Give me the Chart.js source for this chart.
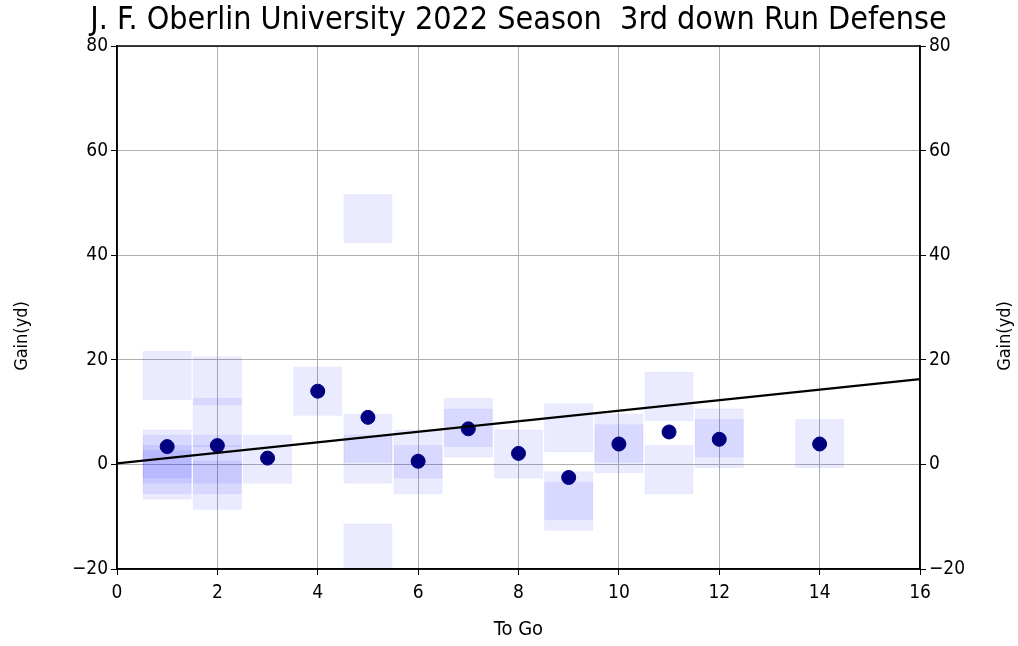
<!DOCTYPE html>
<html>
<head>
<meta charset="utf-8">
<script src="https://cdn.jsdelivr.net/npm/chart.js@4"></script>
<style>
  body { margin: 0; background: #fff; }
  canvas { display: block; }
</style>
</head>
<body>
<canvas id="chart" width="1018" height="646"></canvas>
<script>
// individual plays (yards to go, yards gained)
const playToGo = [1, 1, 1, 1, 1, 2, 2, 2, 2, 2, 3, 4, 5, 5, 5, 5, 6, 6, 7, 7, 8, 9, 9, 9, 10, 10, 11, 11, 12, 12, 14];
const playGain = [17, 2, 1, -1, -2, 16, 8, 1, -1, -4, 1, 14, 47, 5, 1, -16, 2, -1, 8, 6, 2, 7, -6, -8, 5, 3, 13, -1, 6, 4, 4];

// average gain per distance
const meanToGo = [1, 2, 3, 4, 5, 6, 7, 8, 9, 10, 11, 12, 14];
const meanGain = [3.4, 3.6, 1.2, 14, 9, 0.6, 6.8, 2.1, -2.5, 3.9, 6.2, 4.8, 3.9];

// regression line end points
const fitToGo = [0, 16];
const fitGain = [0.2, 16.3];

const xTickValues = [0, 2, 4, 6, 8, 10, 12, 14, 16];
const yTickValues = [-20, 0, 20, 40, 60, 80];

const TITLE = 'J. F. Oberlin University 2022 Season  3rd down Run Defense';
const FONT = "'DejaVu Sans Condensed', 'DejaVu Sans', sans-serif";
const minus = v => String(v).replace('-', '\u2212');

const toPoints = (xs, ys) => xs.map((x, i) => ({ x: x, y: ys[i] }));

// box around the plot, the title over the plot and both "Gain(yd)" labels
const framePlugin = {
    id: 'frame',
    afterDraw(chart) {
        const { ctx, chartArea } = chart;
        ctx.save();
        ctx.strokeStyle = '#000';
        ctx.lineWidth = 1.5;
        ctx.strokeRect(chartArea.left, chartArea.top, chartArea.right - chartArea.left, chartArea.bottom - chartArea.top);

        ctx.fillStyle = '#000';
        ctx.textAlign = 'center';
        ctx.textBaseline = 'middle';
        ctx.font = "condensed 32px " + FONT;
        ctx.fillText(TITLE, (chartArea.left + chartArea.right) / 2, 21);

        ctx.font = "condensed 18px " + FONT;
        [22, 1005].forEach(x => {
            ctx.save();
            ctx.translate(x, 336);
            ctx.rotate(-Math.PI / 2);
            ctx.fillText('Gain(yd)', 0, 0);
            ctx.restore();
        });
        ctx.restore();
    }
};

const tickFont = { family: FONT, size: 19, style: 'condensed' };

new Chart(document.getElementById('chart').getContext('2d'), {
    type: 'scatter',
    data: {
        datasets: [
            {
                label: 'fit',
                data: toPoints(fitToGo, fitGain),
                showLine: true,
                borderColor: '#000',
                borderWidth: 2.2,
                pointRadius: 0
            },
            {
                label: 'mean',
                data: toPoints(meanToGo, meanGain),
                backgroundColor: '#000080',
                borderColor: '#000080',
                borderWidth: 1,
                pointRadius: 7
            },
            {
                label: 'plays',
                data: toPoints(playToGo, playGain),
                pointStyle: 'rect',
                pointRadius: 34,
                backgroundColor: 'rgba(0, 0, 255, 0.08)',
                borderColor: 'rgba(0, 0, 255, 0.05)',
                borderWidth: 1,
                clip: 0
            }
        ]
    },
    options: {
        responsive: false,
        animation: false,
        layout: { padding: { top: 46, left: 0, right: 0, bottom: 0 } },
        plugins: {
            legend: { display: false },
            tooltip: { enabled: false },
            title: { display: false }
        },
        scales: {
            x: {
                type: 'linear',
                position: 'bottom',
                min: 0,
                max: 16,
                afterBuildTicks: s => { s.ticks = xTickValues.map(v => ({ value: v })); },
                afterFit: s => { s.height = 77; },
                ticks: { color: '#000', font: tickFont, padding: 7, maxRotation: 0, callback: minus },
                grid: { color: '#b0b0b0', lineWidth: 1, tickLength: 6, tickColor: '#000' },
                border: { color: '#000', width: 1.5 },
                title: {
                    display: true,
                    text: 'To Go',
                    color: '#000',
                    font: { family: FONT, size: 20, style: 'condensed' },
                    padding: { top: 0, bottom: 4 }
                }
            },
            y: {
                type: 'linear',
                position: 'left',
                min: -20,
                max: 80,
                afterBuildTicks: s => { s.ticks = yTickValues.map(v => ({ value: v })); },
                afterFit: s => { s.width = 117; },
                ticks: { color: '#000', font: tickFont, padding: 3, callback: minus },
                grid: { color: '#b0b0b0', lineWidth: 1, tickLength: 6, tickColor: '#000' },
                border: { color: '#000', width: 1.5 }
            },
            y2: {
                type: 'linear',
                position: 'right',
                min: -20,
                max: 80,
                afterBuildTicks: s => { s.ticks = yTickValues.map(v => ({ value: v })); },
                afterFit: s => { s.width = 98; },
                ticks: { color: '#000', font: tickFont, padding: 3, callback: minus },
                grid: { drawOnChartArea: false, tickLength: 6, tickColor: '#000' },
                border: { color: '#000', width: 1.5 }
            }
        }
    },
    plugins: [framePlugin]
});
</script>
</body>
</html>
